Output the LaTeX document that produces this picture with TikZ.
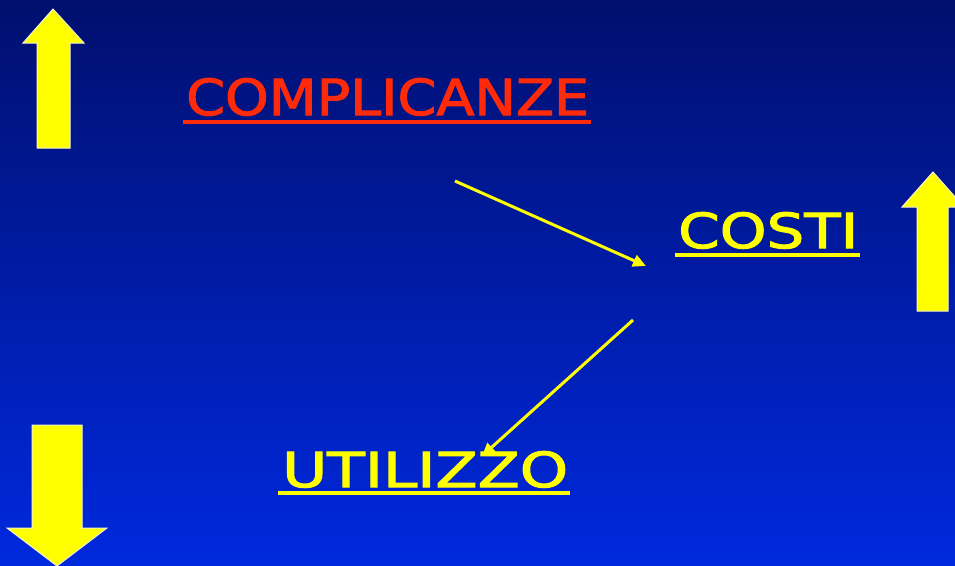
\documentclass[tikz,border=0pt]{standalone}
\usepackage{fontspec}
\setmainfont[FakeBold=2]{DejaVu Sans}
\usetikzlibrary{arrows.meta}
\definecolor{bgtop}{HTML}{000F6E}
\definecolor{bgbot}{HTML}{0029DE}
\definecolor{ylw}{HTML}{FFFF00}
\definecolor{rd}{HTML}{FF2A0A}
\definecolor{edge}{HTML}{F4F4C8}
\tikzset{
  blockarrow/.style={fill=ylw, draw=edge, line width=1pt, line join=miter},
  label/.style={inner sep=0pt, anchor=south west},
  uline/.style={line width=3.6pt},
  link/.style={draw=ylw, line width=3pt, -{Triangle[length=13pt,width=12pt]}}
}
\begin{document}
\begin{tikzpicture}[x=1pt,y=-1pt]
\shade[top color=bgtop, bottom color=bgbot] (0,0) rectangle (955,565);
\useasboundingbox (0,0) rectangle (955,565);
% block arrows
\path[blockarrow] (53,9) -- (84,43) -- (70,43) -- (70,148) -- (37,148) -- (37,43) -- (23,43) -- cycle;
\path[blockarrow] (933,172) -- (964,207) -- (948,207) -- (948,311) -- (917,311) -- (917,207) -- (902,207) -- cycle;
\path[blockarrow] (57,566) -- (107,528) -- (82,528) -- (82,425) -- (32,425) -- (32,528) -- (7,528) -- cycle;
% labels
\node[label, text=rd] (compl) at (186,116) {\resizebox{403pt}{37pt}{COMPLICANZE}};
\draw[uline, rd] (183,122) -- (591,122);
\node[label, text=ylw] (costi) at (678,249) {\resizebox{180pt}{36pt}{COSTI}};
\draw[uline, ylw] (675,255) -- (860,255);
\node[label, text=ylw] (util) at (282,488) {\resizebox{286pt}{36pt}{UTILIZZO}};
\draw[uline, ylw] (278,493) -- (570,493);
% connectors
\coordinate (a1s) at (455,181);
\coordinate (a1e) at (646,266);
\coordinate (a2s) at (633,320);
\coordinate (a2e) at (482,456);
\draw[link] (a1s) -- (a1e);
\draw[link] (a2s) -- (a2e);
\end{tikzpicture}
\end{document}
